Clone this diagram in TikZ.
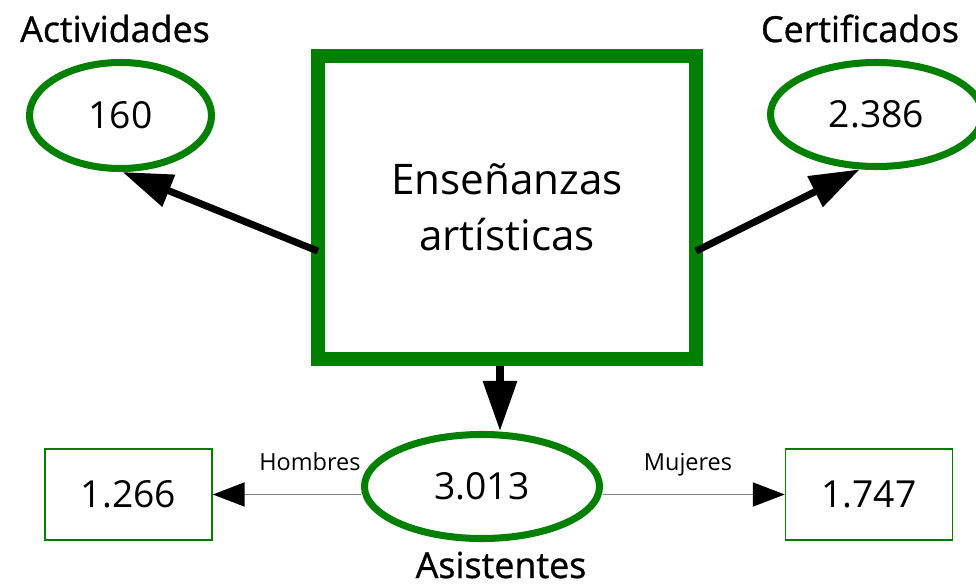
\documentclass[tikz,border=0pt]{standalone}
\usepackage{fontspec}
\setmainfont{Open Sans}
\newfontfamily\gruesa[FakeBold=0.9]{Open Sans}
\usepackage{tikz}
\usetikzlibrary{shapes.geometric,arrows.meta}
\newcommand{\verde}{green!50!black}
\newcommand{\cifra}{\fontsize{26.5pt}{30pt}\selectfont}
\newcommand{\rotulo}{\gruesa\fontsize{25.5pt}{30pt}\selectfont}

\begin{document}
\begin{tikzpicture}[x=0.025cm,y=-0.025cm,
    valor/.style={ellipse,draw=\verde,line width=5pt,inner sep=0pt,font=\cifra},
    caja/.style={rectangle,draw=\verde,line width=1pt,minimum width=4.175cm,minimum height=2.275cm,inner sep=0pt,font=\cifra},
    flecha/.style={line width=5pt,-{Triangle[length=1.25cm,width=0.82cm]}},
    rama/.style={draw=gray,line width=1.4pt,-{Triangle[length=0.8cm,width=0.6cm,color=black]}},
    titulo/.style={anchor=base,inner sep=0pt,font=\rotulo},
    etiqueta/.style={anchor=base,inner sep=0pt,font=\fontsize{16.7pt}{18pt}\selectfont}]
    \useasboundingbox (0,0) rectangle (976,585);
    \node[draw=\verde,line width=10pt,outer sep=0pt,minimum width=9.45cm,minimum height=7.55cm,align=center,font=\fontsize{30pt}{39.8pt}\selectfont] (ensenanzas) at (507,207.5) {Enseñanzas\\artísticas};
    \node[valor,minimum width=4.55cm,minimum height=2.65cm] (actividades) at (120.5,115.5) {160};
    \node[valor,minimum width=5.3cm,minimum height=2.6cm] (certificados) at (876.5,114.5) {2.386};
    \node[valor,minimum width=5.875cm,minimum height=2.6cm] (asistentes) at (482,486.5) {3.013};
    \node[caja] (hombres) at (128.5,494.5) {1.266};
    \node[caja] (mujeres) at (869,494.5) {1.747};
    \node[titulo] (tactividades) at (115,42) {Actividades};
    \node[titulo] (tcertificados) at (860,42) {Certificados};
    \node[titulo] (tasistentes) at (501,578) {Asistentes};
    \node[etiqueta] (thombres) at (310,470) {Hombres};
    \node[etiqueta] (tmujeres) at (688,470) {Mujeres};
    \coordinate (eje) at (500,0);
		\draw[flecha] (ensenanzas.193) -- (actividades.-88);
		\draw[flecha] (ensenanzas.347) -- (certificados.253);
		\draw[flecha] (ensenanzas.south -| eje) ++(0,7.5) -- (asistentes.north -| eje);
		\draw[rama] (asistentes.west |- hombres.east) -- (hombres.east);
		\draw[rama] (asistentes.east |- mujeres.west) -- (mujeres.west);
\end{tikzpicture}
\end{document}
